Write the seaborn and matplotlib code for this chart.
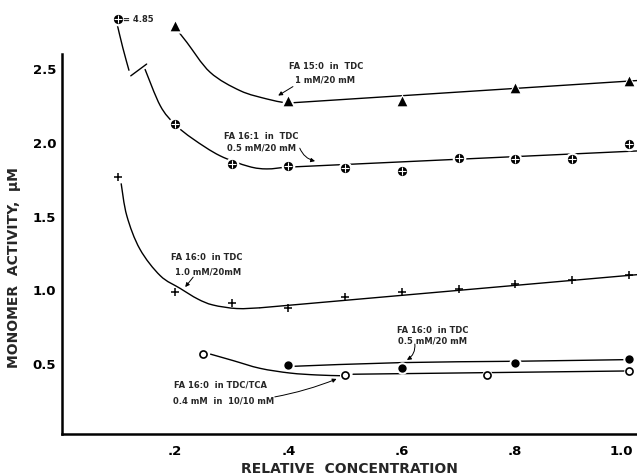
import numpy as np
import pandas as pd
import matplotlib
matplotlib.use("Agg")
import matplotlib.pyplot as plt
import matplotlib.transforms as mtransforms
import seaborn as sns
from matplotlib.path import Path
from matplotlib.patches import PathPatch

# ---------------- data ----------------
# FA 15:0 in TDC, 1 mM/20 mM  (filled triangles)
x_150 = [0.2, 0.4, 0.6, 0.8, 1.0]
y_150 = [2.79, 2.28, 2.28, 2.365, 2.415]

# FA 16:1 in TDC, 0.5 mM/20 mM  (circled cross)
x_161 = [0.2, 0.3, 0.4, 0.5, 0.6, 0.7, 0.8, 0.9, 1.0]
y_161 = [2.12, 1.85, 1.84, 1.825, 1.805, 1.89, 1.885, 1.885, 1.985]
x_161_off = [0.1]          # off-scale point
y_161_off = [4.85]         # its true value (printed as "= 4.85")

# FA 16:0 in TDC, 1.0 mM/20 mM  (plus)
x_160a = [0.1, 0.2, 0.3, 0.4, 0.5, 0.6, 0.7, 0.8, 0.9, 1.0]
y_160a = [1.765, 0.98, 0.907, 0.876, 0.948, 0.985, 1.005, 1.035, 1.065, 1.095]

# FA 16:0 in TDC, 0.5 mM/20 mM  (filled circles)
x_160b = [0.4, 0.6, 0.8, 1.0]
y_160b = [0.487, 0.466, 0.50, 0.527]

# FA 16:0 in TDC/TCA, 0.4 mM in 10/10 mM  (open circles)
x_160c = [0.25, 0.5, 0.75, 1.0]
y_160c = [0.56, 0.42, 0.419, 0.444]

# hand-drawn fit curves (knots)
fit150_cx = [0.205, 0.221, 0.262, 0.315, 0.362, 0.39]
fit150_cy = [2.755, 2.677, 2.474, 2.349, 2.293, 2.27]
fit150_lx = [0.41, 1.015]
fit150_ly = [2.268, 2.418]

fit161_tx = [0.098, 0.108, 0.119]
fit161_ty = [2.80, 2.64, 2.485]
break_x = [0.122, 0.15]
break_y = [2.45, 2.53]
fit161_cx = [0.147, 0.174, 0.2, 0.232, 0.279, 0.33, 0.362, 0.395]
fit161_cy = [2.496, 2.247, 2.12, 2.021, 1.908, 1.835, 1.818, 1.83]
fit161_lx = [0.41, 1.015]
fit161_ly = [1.832, 1.94]

fit160a_cx = [0.105, 0.115, 0.138, 0.174, 0.209, 0.24, 0.267, 0.309, 0.35]
fit160a_cy = [1.72, 1.50, 1.274, 1.093, 1.007, 0.935, 0.894, 0.87, 0.875]
fit160a_lx = [0.35, 1.015]
fit160a_ly = [0.875, 1.10]

fit160b_cx = [0.41, 0.6, 0.8, 0.995]
fit160b_cy = [0.478, 0.503, 0.512, 0.523]

fit160c_cx = [0.262, 0.303, 0.35, 0.403, 0.45, 0.491]
fit160c_cy = [0.561, 0.516, 0.464, 0.432, 0.419, 0.414]
fit160c_lx = [0.514, 0.995]
fit160c_ly = [0.424, 0.446]

x_ticks = [0.2, 0.4, 0.6, 0.8, 1.0]
x_ticklabels = [".2", ".4", ".6", ".8", "1.0"]
y_ticks = [0.5, 1.0, 1.5, 2.0, 2.5]
y_ticklabels = ["0.5", "1.0", "1.5", "2.0", "2.5"]

OFFSCALE_Y = 2.836   # where the off-scale point is drawn (above the axis)

# ---------------- figure ----------------
sns.set_theme(style="white")
plt.rcParams['font.family'] = ['DejaVu Sans']
fig = plt.figure(figsize=(6.37, 4.77), dpi=100)
ax = fig.add_axes([0.0967, 0.088, 0.9035, 0.7966])
ax.set_xlim(0, 1.015)
ax.set_ylim(0.018, 2.598)

LW = 1.0


def smooth(xs, ys, **kw):
    pts = np.column_stack([xs, ys]).astype(float)
    n = len(pts)
    verts = [pts[0]]
    codes = [Path.MOVETO]
    for i in range(n - 1):
        p0 = pts[i - 1] if i > 0 else pts[i]
        p1 = pts[i]
        p2 = pts[i + 1]
        p3 = pts[i + 2] if i + 2 < n else pts[i + 1]
        c1 = p1 + (p2 - p0) / 6.0
        c2 = p2 - (p3 - p1) / 6.0
        verts += [c1, c2, p2]
        codes += [Path.CURVE4] * 3
    patch = PathPatch(Path(verts, codes), fill=False, edgecolor="black",
                      lw=LW, clip_on=False, zorder=2, **kw)
    ax.add_patch(patch)


def straight(xs, ys):
    sns.lineplot(x=xs, y=ys, ax=ax, color="black", lw=LW, zorder=2,
                 estimator=None, sort=False)


# fit lines
smooth(fit150_cx, fit150_cy)
straight(fit150_lx, fit150_ly)
smooth(fit161_tx, fit161_ty)
smooth(fit161_cx, fit161_cy)
straight(fit161_lx, fit161_ly)
smooth(fit160a_cx, fit160a_cy)
straight(fit160a_lx, fit160a_ly)
smooth(fit160b_cx, fit160b_cy)
smooth(fit160c_cx, fit160c_cy)
straight(fit160c_lx, fit160c_ly)
ax.plot(break_x, break_y, color="black", lw=LW, clip_on=False, zorder=2)


def points(xs, ys, marker, s, face, edge="black", lw=0.0, halo=True):
    if halo:
        sns.scatterplot(x=xs, y=ys, ax=ax, marker=marker, s=s * 2.2,
                        color="white", edgecolor="white", linewidth=0,
                        zorder=3, clip_on=False, legend=False)
    sns.scatterplot(x=xs, y=ys, ax=ax, marker=marker, s=s, color=face,
                    edgecolor=edge, linewidth=lw, zorder=4, clip_on=False,
                    legend=False)


points(x_150, y_150, "^", 48, "black")
points(x_161, y_161, "o", 44, "black")
sns.scatterplot(x=x_161, y=y_161, ax=ax, marker="+", s=26, color="white",
                linewidth=0.8, zorder=5, legend=False)
x_off = x_161_off
y_off = [OFFSCALE_Y for _ in y_161_off]
points(x_off, y_off, "o", 44, "black")
sns.scatterplot(x=x_off, y=y_off, ax=ax, marker="+", s=26, color="white",
                linewidth=0.8, zorder=5, clip_on=False, legend=False)
for xv, yv in zip(x_161_off, y_161_off):
    ax.text(xv + 0.0075, OFFSCALE_Y, f"= {yv:.2f}", fontsize=6,
            fontweight="bold", ha="left", va="center", clip_on=False)

sns.scatterplot(x=x_160a, y=y_160a, ax=ax, marker="+", s=28, color="black",
                linewidth=1.1, zorder=4, legend=False, clip_on=False)
points(x_160b, y_160b, "o", 36, "black")
points(x_160c, y_160c, "o", 26, "white", edge="black", lw=1.2)

# annotations
TXT = dict(fontsize=6, fontweight="bold", ha="center", va="center")
ax.text(0.467, 2.523, "FA 15:0  in  TDC", **TXT)
ax.text(0.465, 2.428, "1 mM/20 mM", **TXT)
ax.text(0.352, 2.047, "FA 16:1  in  TDC", **TXT)
ax.text(0.352, 1.969, "0.5 mM/20 mM", **TXT)
ax.text(0.256, 1.225, "FA 16:0  in TDC", **TXT)
ax.text(0.258, 1.127, "1.0 mM/20mM", **TXT)
ax.text(0.655, 0.726, "FA 16:0  in TDC", **TXT)
ax.text(0.654, 0.656, "0.5 mM/20 mM", **TXT)
ax.text(0.281, 0.358, "FA 16:0  in TDC/TCA", **TXT)
ax.text(0.285, 0.249, "0.4 mM  in  10/10 mM", **TXT)

ARW = dict(arrowstyle="-|>", color="black", lw=0.7, mutation_scale=6,
           shrinkA=0, shrinkB=0)
ax.annotate("", xy=(0.382, 2.316), xytext=(0.408, 2.377),
            arrowprops=ARW)
ax.annotate("", xy=(0.447, 1.871), xytext=(0.42, 1.959),
            arrowprops=dict(ARW, connectionstyle="arc3,rad=0.25"))
ax.annotate("", xy=(0.218, 1.016), xytext=(0.232, 1.083),
            arrowprops=ARW)
ax.annotate("", xy=(0.609, 0.521), xytext=(0.623, 0.629),
            arrowprops=dict(ARW, connectionstyle="arc3,rad=-0.3"))
ax.annotate("", xy=(0.485, 0.392), xytext=(0.376, 0.27),
            arrowprops=dict(ARW, connectionstyle="arc3,rad=0.05"))

# axes styling
for side in ["top", "right"]:
    ax.spines[side].set_visible(False)
for side in ["left", "bottom"]:
    ax.spines[side].set_linewidth(1.8)
    ax.spines[side].set_color("black")
ax.set_xticks(x_ticks)
ax.set_xticklabels(x_ticklabels)
ax.set_yticks(y_ticks)
ax.set_yticklabels(y_ticklabels)
ax.tick_params(axis="both", direction="in", length=3.5, width=1.2,
               colors="black", labelsize=9.5)
ax.tick_params(axis="x", pad=7)
ax.tick_params(axis="y", pad=4)
for lab in ax.get_xticklabels() + ax.get_yticklabels():
    lab.set_fontweight("bold")

ax.set_xlabel("RELATIVE  CONCENTRATION", fontsize=10, fontweight="bold")
ax.set_ylabel("MONOMER  ACTIVITY,  μM", fontsize=10, fontweight="bold")
ax.xaxis.set_label_coords(0.5, -0.072)
ax.yaxis.set_label_coords(-0.07, 0.442)
ax.grid(False)

# nudge the last x tick label so it stays inside the figure
last = ax.xaxis.get_major_ticks()[-1].label1
last.set_transform(last.get_transform() +
                   mtransforms.ScaledTranslation(-5 / 72, 0, fig.dpi_scale_trans))

fig.savefig("out.png", dpi=100)
